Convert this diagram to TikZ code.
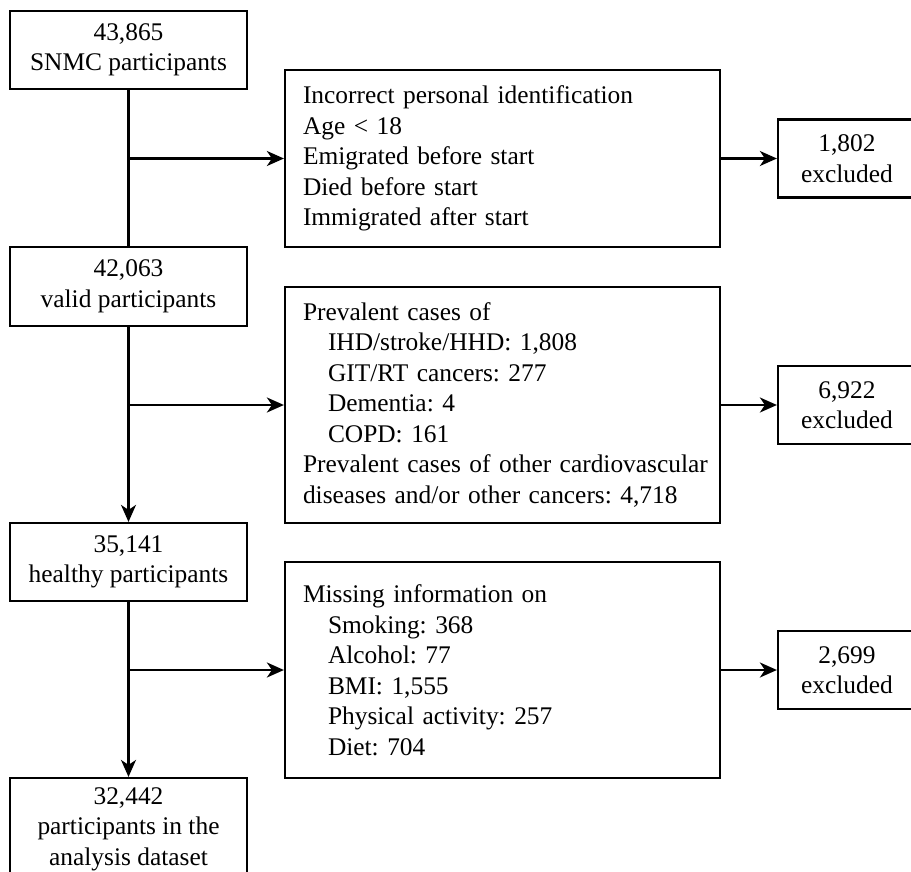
\documentclass[tikz,border=0pt]{standalone}
\usepackage{fontspec}
\setmainfont{Liberation Serif}
\usetikzlibrary{arrows.meta}
\frenchspacing
\begin{document}
\begin{tikzpicture}[x=1bp,y=-1bp,
  every node/.style={font=\fontsize{25.4bp}{30.5bp}\selectfont},
  box/.style={draw, line width=2.2bp, inner sep=0pt, align=center, minimum width=237bp},
  exbox/.style={draw, line width=2.2bp, inner sep=0pt, align=center, minimum width=138bp, minimum height=78bp},
  listbox/.style={draw, line width=2.2bp, inner xsep=18bp, inner ysep=0pt, text width=399bp, align=left},
  conn/.style={line width=2.2bp},
  arr/.style={conn, -{Stealth[length=17bp,width=15bp,inset=5bp]}}]
\useasboundingbox (0,0) rectangle (911,872);
\newcommand{\ind}{\hspace*{25bp}}
% left column
\node[box, minimum height=78bp] (A) at (128.5,50) {43,865\\SNMC participants};
\node[box, minimum height=79bp] (C) at (128.5,286.5) {42,063\\valid participants};
\node[box, minimum height=78bp] (E) at (128.5,562) {35,141\\healthy participants};
\node[box, minimum height=102bp] (G) at (128.5,829) {32,442\\participants in the\\analysis dataset};
% middle column
\node[listbox, minimum height=177bp] (B) at (502.5,158.5) {Incorrect personal identification\\Age < 18\\Emigrated before start\\Died before start\\Immigrated after start};
\node[listbox, minimum height=236bp] (D) at (502.5,405) {Prevalent cases of\\\ind IHD/stroke/HHD: 1,808\\\ind GIT/RT cancers: 277\\\ind Dementia: 4\\\ind COPD: 161\\\mbox{Prevalent cases of other cardiovascular}\\\mbox{diseases and/or other cancers: 4,718}};
\node[listbox, minimum height=216bp] (F) at (502.5,670) {Missing information on\\\ind Smoking: 368\\\ind Alcohol: 77\\\ind BMI: 1,555\\\ind Physical activity: 257\\\ind Diet: 704};
% right column
\node[exbox] (X1) at (847,158.5) {1,802\\excluded};
\node[exbox] (X2) at (847,405) {6,922\\excluded};
\node[exbox] (X3) at (847,670) {2,699\\excluded};
% connectors
\draw[conn] (A.south) -- (C.north);
\draw[arr] (C.south) -- (E.north);
\draw[arr] (E.south) -- (G.north);
\draw[arr] (A.south |- B.west) -- (B.west);
\draw[arr] (C.south |- D.west) -- (D.west);
\draw[arr] (E.south |- F.west) -- (F.west);
\draw[arr] (B.east) -- (X1.west);
\draw[arr] (D.east) -- (X2.west);
\draw[arr] (F.east) -- (X3.west);
\end{tikzpicture}
\end{document}
